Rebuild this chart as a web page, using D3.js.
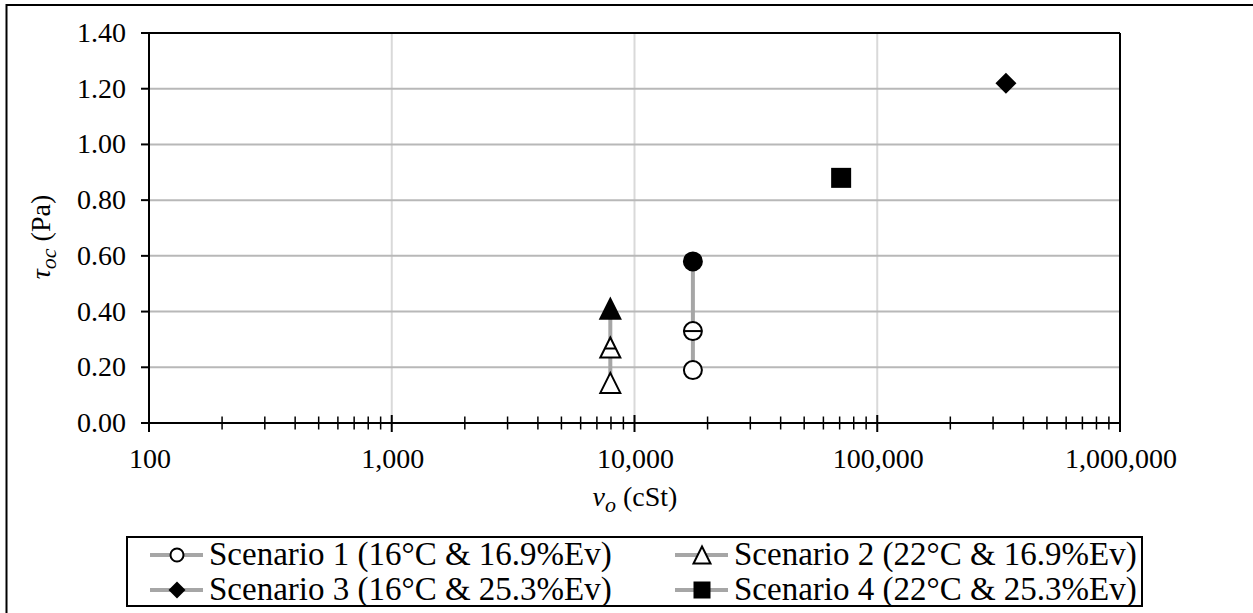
<!DOCTYPE html>
<html>
<head>
<meta charset="utf-8">
<script src="https://cdn.jsdelivr.net/npm/d3@7"></script>
<style>
  body { margin: 0; background: #fff; }
</style>
</head>
<body>
<svg id="chart" width="1253" height="613"></svg>
<script>
// data
var legendNames = ["Scenario 1 (16°C & 16.9%Ev)", "Scenario 2 (22°C & 16.9%Ev)",
                   "Scenario 3 (16°C & 25.3%Ev)", "Scenario 4 (22°C & 25.3%Ev)"]
var s1X = [17400, 17400, 17400]
var s1Y = [0.19, 0.33, 0.58]
var s1Style = ["open", "bar", "solid"]
var s2X = [7950, 7950, 7950]
var s2Y = [0.144, 0.271, 0.41]
var s2Style = ["open", "bar", "solid"]
var s3X = [339000]
var s3Y = [1.22]
var s4X = [71000]
var s4Y = [0.88]
var yTicks = [0, 0.2, 0.4, 0.6, 0.8, 1.0, 1.2, 1.4]
var xMajor = [100, 1000, 10000, 100000, 1000000]

var svg = d3.select("#chart")
var pLeft = 149, pRight = 1120, pTop = 33, pBottom = 423
var gray = "#a6a6a6"
var font = "Liberation Serif"

var x = d3.scaleLog().domain([100, 1000000]).range([pLeft, pRight])
var y = d3.scaleLinear().domain([0, 1.4]).range([pBottom, pTop])

// outer chart border (right/bottom run off the window)
svg.append("rect").attr("x", 6.5).attr("y", 5).attr("width", 1300).attr("height", 700)
   .attr("fill", "none").attr("stroke", "#000").attr("stroke-width", 2)

// gridlines
svg.selectAll("line.vgrid")
   .data(xMajor.slice(1, -1))
   .enter().append("line")
   .attr("x1", d => x(d)).attr("x2", d => x(d))
   .attr("y1", pTop).attr("y2", pBottom)
   .attr("stroke", "#d9d9d9").attr("stroke-width", 2)

svg.selectAll("line.hgrid")
   .data(yTicks.slice(1, -1))
   .enter().append("line")
   .attr("x1", pLeft).attr("x2", pRight)
   .attr("y1", d => y(d)).attr("y2", d => y(d))
   .attr("stroke", "#b8b8b8").attr("stroke-width", 2)

// plot border top / right
svg.append("line").attr("x1", pLeft).attr("x2", pRight).attr("y1", pTop).attr("y2", pTop)
   .attr("stroke", "#000").attr("stroke-width", 2)
svg.append("line").attr("x1", pRight).attr("x2", pRight).attr("y1", pTop).attr("y2", pBottom)
   .attr("stroke", "#000").attr("stroke-width", 2)

// y axis
svg.append("line").attr("x1", pLeft).attr("x2", pLeft).attr("y1", pTop - 1).attr("y2", pBottom + 9)
   .attr("stroke", "#000").attr("stroke-width", 2)
svg.selectAll("line.ytick")
   .data(yTicks)
   .enter().append("line")
   .attr("x1", pLeft - 8).attr("x2", pLeft)
   .attr("y1", d => y(d)).attr("y2", d => y(d))
   .attr("stroke", "#000").attr("stroke-width", 2)
svg.selectAll("text.ylab")
   .data(yTicks)
   .enter().append("text")
   .attr("x", 126).attr("y", d => y(d) + 9)
   .attr("text-anchor", "end").attr("font-size", 28).attr("font-family", font)
   .text(d => d3.format(".2f")(d))

// x axis
svg.append("line").attr("x1", pLeft).attr("x2", pRight).attr("y1", pBottom).attr("y2", pBottom)
   .attr("stroke", "#000").attr("stroke-width", 2)
var minor = []
xMajor.slice(0, -1).forEach(function(m) {
  for (var k = 2; k <= 9; k++) minor.push(m * k)
})
svg.selectAll("line.xminor")
   .data(minor)
   .enter().append("line")
   .attr("x1", d => x(d)).attr("x2", d => x(d))
   .attr("y1", pBottom - 6.5).attr("y2", pBottom + 6.5)
   .attr("stroke", "#000").attr("stroke-width", 1.5)
svg.selectAll("line.xmajor")
   .data(xMajor)
   .enter().append("line")
   .attr("x1", d => x(d)).attr("x2", d => x(d))
   .attr("y1", pBottom - 8).attr("y2", pBottom + 9)
   .attr("stroke", "#000").attr("stroke-width", 2)
svg.selectAll("text.xlab")
   .data(xMajor)
   .enter().append("text")
   .attr("x", d => x(d) + 1).attr("y", pBottom + 45)
   .attr("text-anchor", "middle").attr("font-size", 28).attr("font-family", font)
   .text(d => d3.format(",")(d))

// axis titles
var yt = svg.append("text").attr("font-size", 28).attr("font-family", font)
   .attr("text-anchor", "middle")
   .attr("transform", "translate(50,237) rotate(-90)")
yt.append("tspan").attr("font-style", "italic").text("τ")
yt.append("tspan").attr("font-style", "italic").attr("font-size", 22).attr("dy", 6).text("oc")
yt.append("tspan").attr("dy", -6).text(" (Pa)")

var xt = svg.append("text").attr("font-size", 28).attr("font-family", font)
   .attr("text-anchor", "middle")
   .attr("x", 635).attr("y", 506)
xt.append("tspan").attr("font-style", "italic").text("v")
xt.append("tspan").attr("font-style", "italic").attr("font-size", 22).attr("dy", 6).text("o")
xt.append("tspan").attr("dy", -6).text(" (cSt)")

// marker drawing
function marker(g, shape, style, cx, cy, s) {
  var fill = style === "solid" ? "#000" : "#fff"
  var h = s / 2
  if (shape === "circle") {
    g.append("circle").attr("cx", cx).attr("cy", cy).attr("r", h - 1)
     .attr("fill", fill).attr("stroke", "#000").attr("stroke-width", 2)
  } else if (shape === "triangle") {
    g.append("path")
     .attr("d", `M${cx},${cy - h}L${cx + h},${cy + h}L${cx - h},${cy + h}Z`)
     .attr("fill", fill).attr("stroke", "#000").attr("stroke-width", 2).attr("stroke-linejoin", "miter")
  } else if (shape === "diamond") {
    g.append("path")
     .attr("d", `M${cx},${cy - h}L${cx + h},${cy}L${cx},${cy + h}L${cx - h},${cy}Z`)
     .attr("fill", "#000")
  } else if (shape === "square") {
    g.append("rect").attr("x", cx - h).attr("y", cy - h).attr("width", s).attr("height", s)
     .attr("fill", "#000")
  }
  if (style === "bar") {
    var w = shape === "circle" ? h - 1 : h * 0.55
    var yy = shape === "circle" ? cy : cy + 1
    g.append("line").attr("x1", cx - w).attr("x2", cx + w).attr("y1", yy).attr("y2", yy)
     .attr("stroke", "#000").attr("stroke-width", 2)
  }
}

var lineGen = d3.line().x(d => x(d[0])).y(d => y(d[1]))
var series = [
  {xs: s1X, ys: s1Y, styles: s1Style, shape: "circle"},
  {xs: s2X, ys: s2Y, styles: s2Style, shape: "triangle"},
  {xs: s3X, ys: s3Y, styles: ["solid"], shape: "diamond"},
  {xs: s4X, ys: s4Y, styles: ["solid"], shape: "square"}
]
var marks = svg.append("g")
series.forEach(function(s) {
  var pts = s.xs.map((v, i) => [v, s.ys[i]])
  if (pts.length > 1) {
    marks.append("path").attr("d", lineGen(pts)).attr("fill", "none")
         .attr("stroke", gray).attr("stroke-width", 4)
  }
})
series.forEach(function(s) {
  s.xs.forEach(function(v, i) {
    marker(marks, s.shape, s.styles[i], x(v), y(s.ys[i]), s.shape === "diamond" ? 21 : 20)
  })
})

// legend
svg.append("rect").attr("x", 127).attr("y", 537).attr("width", 1015).attr("height", 69)
   .attr("fill", "#fff").attr("stroke", "#000").attr("stroke-width", 2)
var legShapes = ["circle", "triangle", "diamond", "square"]
var legStyles = ["open", "open", "solid", "solid"]
var colX = [150, 675], rowY = [555, 590]
legendNames.forEach(function(name, i) {
  var lx = colX[i % 2], ly = rowY[Math.floor(i / 2)]
  var g = svg.append("g")
  g.append("line").attr("x1", lx).attr("x2", lx + 53).attr("y1", ly).attr("y2", ly)
   .attr("stroke", gray).attr("stroke-width", 4)
  marker(g, legShapes[i], legStyles[i], lx + 27, ly, i === 0 ? 15 : 17)
  g.append("text").attr("x", lx + 59).attr("y", ly + 10).attr("font-size", 33)
   .attr("font-family", font)
   .text(name)
})
</script>
</body>
</html>
